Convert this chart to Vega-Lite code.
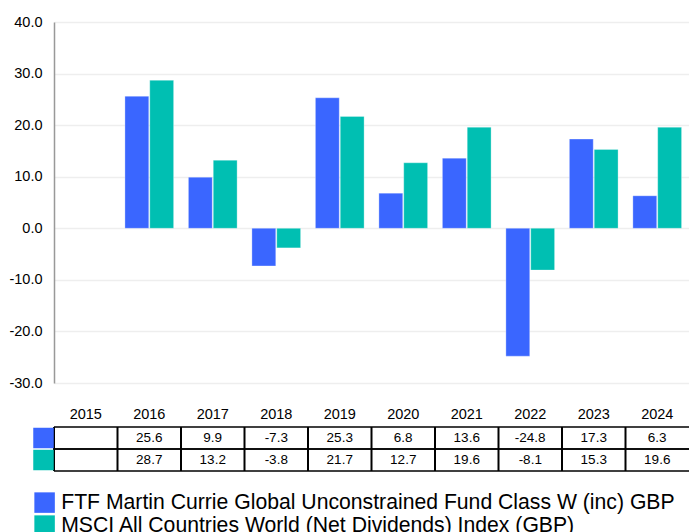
{
  "$schema": "https://vega.github.io/schema/vega-lite/v6.json",
  "padding": {"left": 0, "top": 14, "right": 0, "bottom": 0},
  "config": {
    "font": "Liberation Sans",
    "view": {"stroke": null},
    "concat": {"spacing": 0},
    "locale": {"number": {"decimal": ".", "thousands": ",", "grouping": [3], "currency": ["$", ""], "minus": "-"}}
  },
  "datasets": {
    "returns": [
      {"Year": "2016", "Series": "FTF Martin Currie Global Unconstrained Fund Class W (inc) GBP", "Return": 25.6},
      {"Year": "2016", "Series": "MSCI All Countries World (Net Dividends) Index (GBP)", "Return": 28.7},
      {"Year": "2017", "Series": "FTF Martin Currie Global Unconstrained Fund Class W (inc) GBP", "Return": 9.9},
      {"Year": "2017", "Series": "MSCI All Countries World (Net Dividends) Index (GBP)", "Return": 13.2},
      {"Year": "2018", "Series": "FTF Martin Currie Global Unconstrained Fund Class W (inc) GBP", "Return": -7.3},
      {"Year": "2018", "Series": "MSCI All Countries World (Net Dividends) Index (GBP)", "Return": -3.8},
      {"Year": "2019", "Series": "FTF Martin Currie Global Unconstrained Fund Class W (inc) GBP", "Return": 25.3},
      {"Year": "2019", "Series": "MSCI All Countries World (Net Dividends) Index (GBP)", "Return": 21.7},
      {"Year": "2020", "Series": "FTF Martin Currie Global Unconstrained Fund Class W (inc) GBP", "Return": 6.8},
      {"Year": "2020", "Series": "MSCI All Countries World (Net Dividends) Index (GBP)", "Return": 12.7},
      {"Year": "2021", "Series": "FTF Martin Currie Global Unconstrained Fund Class W (inc) GBP", "Return": 13.6},
      {"Year": "2021", "Series": "MSCI All Countries World (Net Dividends) Index (GBP)", "Return": 19.6},
      {"Year": "2022", "Series": "FTF Martin Currie Global Unconstrained Fund Class W (inc) GBP", "Return": -24.8},
      {"Year": "2022", "Series": "MSCI All Countries World (Net Dividends) Index (GBP)", "Return": -8.1},
      {"Year": "2023", "Series": "FTF Martin Currie Global Unconstrained Fund Class W (inc) GBP", "Return": 17.3},
      {"Year": "2023", "Series": "MSCI All Countries World (Net Dividends) Index (GBP)", "Return": 15.3},
      {"Year": "2024", "Series": "FTF Martin Currie Global Unconstrained Fund Class W (inc) GBP", "Return": 6.3},
      {"Year": "2024", "Series": "MSCI All Countries World (Net Dividends) Index (GBP)", "Return": 19.6}
    ],
    "years": [
      {"Year": "2015"}, {"Year": "2016"}, {"Year": "2017"}, {"Year": "2018"}, {"Year": "2019"},
      {"Year": "2020"}, {"Year": "2021"}, {"Year": "2022"}, {"Year": "2023"}, {"Year": "2024"}
    ],
    "series": [
      {"Series": "FTF Martin Currie Global Unconstrained Fund Class W (inc) GBP"},
      {"Series": "MSCI All Countries World (Net Dividends) Index (GBP)"}
    ]
  },
  "vconcat": [
    {
      "width": 635,
      "height": 361,
      "data": {"name": "returns"},
      "mark": {"type": "bar", "stroke": "#ffffff", "strokeOpacity": 0.3, "strokeWidth": 1},
      "encoding": {
        "x": {
          "field": "Year", "type": "nominal",
          "scale": {"domain": ["2015","2016","2017","2018","2019","2020","2021","2022","2023","2024"], "paddingInner": 0.233, "paddingOuter": 0.117},
          "axis": null
        },
        "xOffset": {
          "field": "Series", "type": "nominal",
          "scale": {"domain": ["FTF Martin Currie Global Unconstrained Fund Class W (inc) GBP", "MSCI All Countries World (Net Dividends) Index (GBP)"], "paddingInner": 0.04}
        },
        "y": {
          "field": "Return", "type": "quantitative",
          "scale": {"domain": [-30, 40], "nice": false},
          "axis": {
            "values": [-30, -20, -10, 0, 10, 20, 30, 40], "format": ".1f", "title": null,
            "labelFontSize": 14.5, "labelColor": "#000000", "labelPadding": 12, "ticks": false,
            "domainColor": "#999999", "domainWidth": 1.5, "gridColor": "#eeeeee", "gridWidth": 1.5,
            "minExtent": 54, "maxExtent": 54
          }
        },
        "color": {
          "field": "Series", "type": "nominal",
          "scale": {"domain": ["FTF Martin Currie Global Unconstrained Fund Class W (inc) GBP", "MSCI All Countries World (Net Dividends) Index (GBP)"], "range": ["#3A66FF", "#00BFB2"]},
          "legend": {
            "orient": "none", "legendX": -20, "legendY": 470, "direction": "vertical", "title": null,
            "symbolType": "square", "symbolSize": 420, "symbolStrokeWidth": 0, "symbolOpacity": 1,
            "labelFontSize": 21.2, "labelColor": "#000000", "labelOffset": 6, "rowPadding": 1, "labelLimit": 0
          }
        }
      }
    },
    {
      "width": 635,
      "height": 44,
      "layer": [
        {
          "data": {"name": "years"},
          "mark": {"type": "rule", "color": "#000000", "strokeWidth": 2},
          "encoding": {
            "x": {
              "field": "Year", "type": "nominal", "bandPosition": 0,
              "scale": {"domain": ["2015","2016","2017","2018","2019","2020","2021","2022","2023","2024"], "paddingInner": 0, "paddingOuter": 0},
              "axis": {"orient": "top", "title": null, "domain": false, "ticks": false, "labelAngle": 0, "labelFontSize": 14.5, "labelColor": "#000000", "labelPadding": 6, "minExtent": 37, "maxExtent": 37}
            }
          }
        },
        {
          "data": {"name": "series"},
          "mark": {"type": "rule", "color": "#000000", "strokeWidth": 1.5},
          "encoding": {
            "y": {
              "field": "Series", "type": "nominal", "bandPosition": 0,
              "scale": {"domain": ["FTF Martin Currie Global Unconstrained Fund Class W (inc) GBP", "MSCI All Countries World (Net Dividends) Index (GBP)"], "paddingInner": 0, "paddingOuter": 0},
              "axis": null
            }
          }
        },
        {
          "data": {"name": "series"},
          "mark": {"type": "rule", "color": "#000000", "strokeWidth": 1.5},
          "encoding": {
            "y": {"field": "Series", "type": "nominal", "bandPosition": 1}
          }
        },
        {
          "data": {"name": "returns"},
          "mark": {"type": "text", "fontSize": 13.5, "color": "#000000"},
          "encoding": {
            "x": {"field": "Year", "type": "nominal"},
            "y": {"field": "Series", "type": "nominal"},
            "text": {"field": "Return", "type": "quantitative", "format": ".1f"}
          }
        },
        {
          "data": {"name": "series"},
          "mark": {"type": "square", "size": 420, "xOffset": -10.5, "opacity": 1},
          "encoding": {
            "x": {"datum": "2015", "type": "nominal", "bandPosition": 0},
            "y": {"field": "Series", "type": "nominal"},
            "color": {"field": "Series", "type": "nominal", "legend": null}
          }
        }
      ]
    }
  ],
  "resolve": {"scale": {"x": "independent", "y": "independent"}}
}
